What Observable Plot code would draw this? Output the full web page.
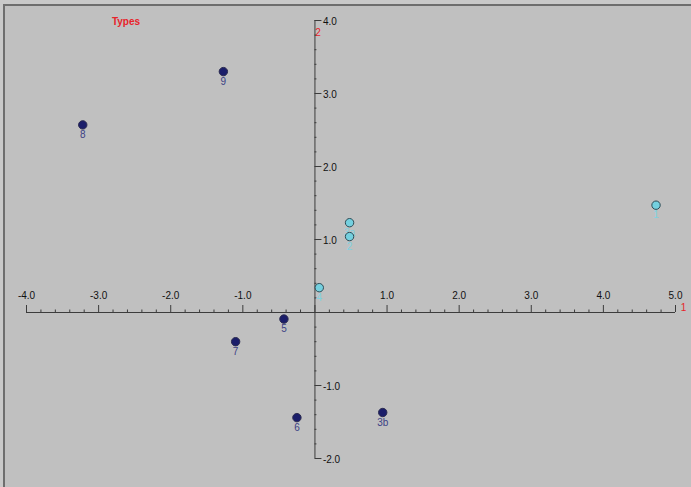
<!DOCTYPE html>
<html>
<head>
<meta charset="utf-8">
<script src="https://cdn.jsdelivr.net/npm/d3@7"></script>
<script src="https://cdn.jsdelivr.net/npm/@observablehq/plot@0.6"></script>
<style>
  html, body { margin: 0; padding: 0; background: #c9c9c9; }
  #wrap { position: relative; width: 691px; height: 487px; overflow: hidden; background: #c9c9c9; }
  #panel { position: absolute; left: 3px; top: 4px; right: 0; bottom: 0; background: #c0c0c0;
           border-top: 2px solid #6e6e6e; border-left: 2px solid #6e6e6e; }
  #chart { position: absolute; left: 0; top: 0; }
</style>
</head>
<body>
<div id="wrap"><div id="panel"></div><div id="chart"></div></div>
<script>
// ---- data ----
const labels = ["8", "9", "5", "7", "6", "3b", "4", "2", "3a", "1"];
const xValues = [-3.22, -1.27, -0.43, -1.10, -0.25, 0.94, 0.06, 0.48, 0.48, 4.73];
const yValues = [2.57, 3.30, -0.09, -0.40, -1.44, -1.37, 0.34, 1.04, 1.23, 1.47];
const groups = ["A", "A", "A", "A", "A", "A", "B", "B", "B", "B"];
const xTickValues = [-4, -3, -2, -1, 1, 2, 3, 4, 5];
const xTickLabels = ["-4.0", "-3.0", "-2.0", "-1.0", "1.0", "2.0", "3.0", "4.0", "5.0"];
const yTickValues = [4, 3, 2, 1, -1, -2];
const yTickLabels = ["4.0", "3.0", "2.0", "1.0", "-1.0", "-2.0"];
const xAxisTitle = "1";
const yAxisTitle = "2";
const legendTitle = "Types";

// ---- layout ----
const W = 691, H = 487;
const xRange = [26, 675], yRange = [458, 20];
const xDomain = [-4, 5], yDomain = [-2, 4];
const pxX = (xRange[1] - xRange[0]) / (xDomain[1] - xDomain[0]);
const pxY = (yRange[0] - yRange[1]) / (yDomain[1] - yDomain[0]);
const font = "Liberation Sans, Arial, sans-serif";

const points = labels.map((l, i) => ({label: l, x: xValues[i], y: yValues[i], g: groups[i]}));
const xMajor = d3.range(xDomain[0], xDomain[1] + 0.001, 1);
const xMinor = d3.range(xDomain[0] * 5, xDomain[1] * 5 + 1).map(v => v / 5).filter(v => Math.abs(v - Math.round(v)) > 1e-6);
const yMajor = d3.range(yDomain[0], yDomain[1] + 0.001, 1);
const yMinor = d3.range(yDomain[0] * 5, yDomain[1] * 5 + 1).map(v => v / 5).filter(v => Math.abs(v - Math.round(v)) > 1e-6);
const axisColor = "#3c3c3c";
const red = "#e8232a";

const fillOf = g => g === "A" ? "#1b1e6a" : "#74d0df";
const strokeOf = g => g === "A" ? "#2a2a50" : "#2d4b55";
const labelColorOf = g => g === "A" ? "#3c4285" : "#7fd3e0";

const chart = Plot.plot({
  width: W, height: H,
  margin: 0,
  style: {background: "transparent", fontFamily: font},
  x: {domain: xDomain, range: xRange, axis: null},
  y: {domain: yDomain, range: yRange, axis: null},
  marks: [
    Plot.ruleY([0], {x1: xDomain[0], x2: xDomain[1], stroke: axisColor, strokeWidth: 1}),
    Plot.ruleX([0], {y1: yDomain[0], y2: yDomain[1], stroke: axisColor, strokeWidth: 1}),
    Plot.ruleX(xMajor, {x: d => d, y1: 0, y2: 7 / pxY, stroke: axisColor}),
    Plot.ruleX(xMinor, {x: d => d, y1: 0, y2: 2.5 / pxY, stroke: axisColor}),
    Plot.ruleY(yMajor, {y: d => d, x1: 0, x2: 7 / pxX, stroke: axisColor}),
    Plot.ruleY(yMinor, {y: d => d, x1: 0, x2: 2 / pxX, stroke: axisColor}),
    Plot.text(xTickValues, {x: d => d, y: 0, text: (d, i) => xTickLabels[i], dy: -17,
      fill: "#111", fontSize: 10, textAnchor: "middle", fontFamily: font}),
    Plot.text(yTickValues, {x: 0, y: d => d, text: (d, i) => yTickLabels[i], dx: 8, dy: 1,
      fill: "#111", fontSize: 10, textAnchor: "start", fontFamily: font}),
    Plot.text([xAxisTitle], {x: xDomain[1], y: 0, text: d => d, dx: 8, dy: -5,
      fill: red, fontSize: 10, textAnchor: "middle", fontFamily: font}),
    Plot.text([yAxisTitle], {x: 0, y: yDomain[1], text: d => d, dx: 3, dy: 12,
      fill: red, fontSize: 10, textAnchor: "middle", fontFamily: font}),
    Plot.text([legendTitle], {x: -2.62, y: yDomain[1], text: d => d, dy: 1,
      fill: red, fontSize: 10, fontWeight: "bold", textAnchor: "middle", fontFamily: font}),
    Plot.text(points, {x: "x", y: "y", text: "label", dy: 10, fill: d => labelColorOf(d.g),
      fontSize: 10, textAnchor: "middle", fontFamily: font}),
    Plot.dot(points, {x: "x", y: "y", r: 4.2, fill: d => fillOf(d.g), stroke: d => strokeOf(d.g),
      strokeWidth: 1, fillOpacity: 1})
  ]
});
document.getElementById("chart").appendChild(chart);
</script>
</body>
</html>
